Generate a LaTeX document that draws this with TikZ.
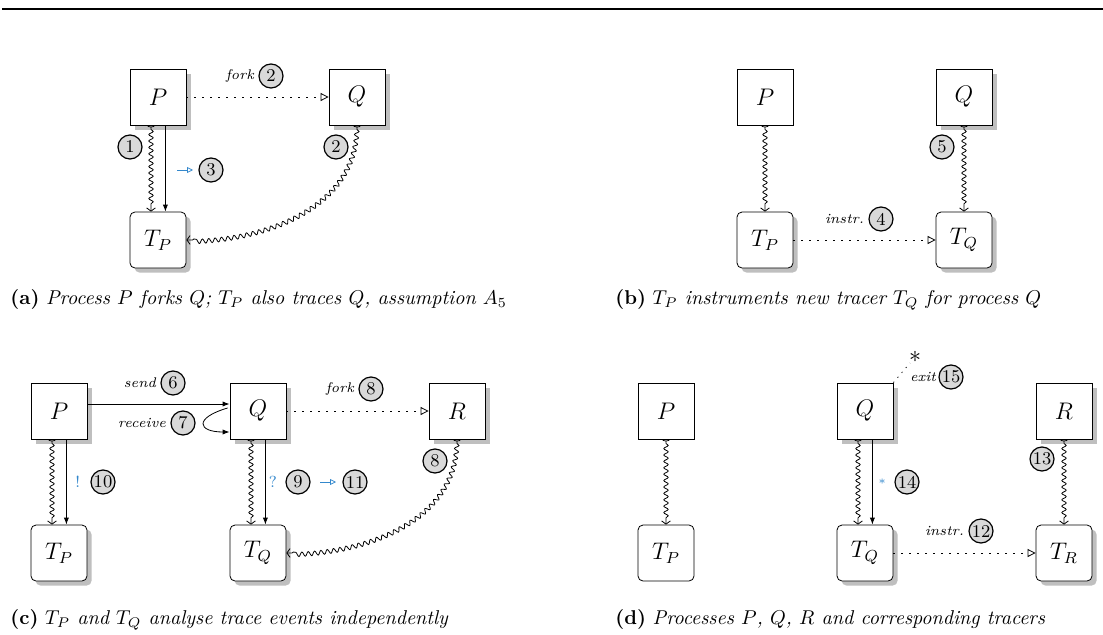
\documentclass[tikz,border=0pt]{standalone}
\usetikzlibrary{positioning,arrows.meta,decorations.pathmorphing,shadows}

\definecolor{evblue}{RGB}{52,136,204}

\tikzset{
	proc/.style={draw, fill=white, minimum size=28pt, inner sep=0pt, font=\large},
	tracer/.style={proc, rounded corners=2.5pt},
	live/.style={drop shadow={shadow xshift=2.3pt, shadow yshift=-2.3pt, fill=black!25, opacity=1}},
	evnum/.style={circle, draw, semithick, fill=black!15, font=\small, inner sep=0.3pt, minimum size=12pt},
	lbl/.style={font=\scriptsize\itshape, inner sep=0pt},
	evmark/.style={text=evblue, font=\footnotesize, inner sep=0pt},
	trace/.style={decorate, decoration={snake, amplitude=1.1pt, segment length=3.2pt, pre length=2pt, post length=2.5pt},
		arrows={Arc Barb[reversed,width=4pt,length=1pt]-Straight Barb[length=1.6pt,width=4.4pt]}},
	event/.style={arrows={-Latex[length=3.5pt,width=2.6pt]}},
	spawn/.style={dash pattern=on 0.6pt off 3.4pt, arrows={-Triangle[open,length=4pt,width=4pt]}},
	figcap/.style={anchor=base west, inner sep=0pt},
}

\begin{document}
\begin{tikzpicture}[x=0.5pt, y=0.5pt]
	\useasboundingbox (0,0) rectangle (1103,634);
	
	% rule on top
	\draw[line width=0.8pt] (2,625) -- (1103,625);
	
	% (a) fork
	\node[proc,live] (Pa) at (158,537) {$P$};
	\node[proc,live] (Qa) at (357,537) {$Q$};
	\node[tracer,live] (TPa) at (158,394) {$T_P$};
	
	\draw[spawn] (Pa) -- (Qa);
	\draw[trace] ([xshift=-3.5pt]Pa.south) -- ([xshift=-3.5pt]TPa.north);
	\draw[event] ([xshift=3.7pt]Pa.south) -- ([xshift=3.7pt]TPa.north);
	\draw[trace] (Qa.south) to[out=-90,in=0] (TPa.east);
	
	\node[evnum] (n2fa) at (271,558) {2};
	\node[lbl, left=2pt of n2fa] (forka) {fork};
	\node[evnum] (n1a) at (130,487) {1};
	\node[evnum] (n2a) at (336,487) {2};
	\node[evnum] (n3a) at (211,464) {3};
	\coordinate (ba1) at (177,464);
	\coordinate (ba2) at (193,464);
	\draw[evblue, arrows={-Triangle[open,length=3pt,width=3pt]}] (ba1) -- (ba2);
	
	\node[figcap] (capa) at (10,330) {\textbf{(a)} \textit{Process $P$ forks $Q$; $T_P$ also traces $Q$, assumption $A_5$}};
	
	% (b) new tracer
	\node[proc] (Pb) at (765,537) {$P$};
	\node[proc,live] (Qb) at (964,537) {$Q$};
	\node[tracer,live] (TPb) at (765,394) {$T_P$};
	\node[tracer,live] (TQb) at (964,394) {$T_Q$};
	
	\draw[trace] (Pb.south) -- (TPb.north);
	\draw[trace] (Qb.south) -- (TQb.north);
	\draw[spawn] (TPb) -- (TQb);
	
	\node[evnum] (n4b) at (881,415) {4};
	\node[lbl, left=2pt of n4b] (instrb) {instr.};
	\node[evnum] (n5b) at (942,487) {5};
	
	\node[figcap] (capb) at (615,330) {\textbf{(b)} \textit{$T_P$ instruments new tracer $T_Q$ for process $Q$}};
	
	% (c) send and receive
	\node[proc,live] (Pc) at (59,223) {$P$};
	\node[proc,live] (Qc) at (258,223) {$Q$};
	\node[proc,live] (Rc) at (457,223) {$R$};
	\node[tracer,live] (TPc) at (59,81) {$T_P$};
	\node[tracer,live] (TQc) at (258,81) {$T_Q$};
	
	\draw[event] ([yshift=3.5pt]Pc.east) -- ([yshift=3.5pt]Qc.west);
	\draw[event] ([xshift=-1pt,yshift=1.5pt]Qc.west) .. controls +(-17pt,-5pt) and +(-16pt,0pt) .. ([yshift=-10.5pt]Qc.west);
	\draw[spawn] (Qc) -- (Rc);
	\draw[trace] ([xshift=-3.5pt]Pc.south) -- ([xshift=-3.5pt]TPc.north);
	\draw[event] ([xshift=3.7pt]Pc.south) -- ([xshift=3.7pt]TPc.north);
	\draw[trace] ([xshift=-3.5pt]Qc.south) -- ([xshift=-3.5pt]TQc.north);
	\draw[event] ([xshift=3.7pt]Qc.south) -- ([xshift=3.7pt]TQc.north);
	\draw[trace] (Rc.south) to[out=-90,in=0] (TQc.east);
	
	\node[evnum] (n6c) at (173,251) {6};
	\node[lbl, left=2pt of n6c] (sendc) {send};
	\node[evnum] (n7c) at (183,211) {7};
	\node[lbl, left=2pt of n7c] (recvc) {receive};
	\node[evnum] (n8fc) at (371,245) {8};
	\node[lbl, left=2pt of n8fc] (forkc) {fork};
	\node[evnum] (n8c) at (435,173) {8};
	\node[evnum] (n10c) at (103,152) {10};
	\node[evmark, left=5pt of n10c] (bangc) {!};
	\node[evnum] (n9c) at (298,152) {9};
	\node[evmark, left=4pt of n9c] (askc) {?};
	\node[evnum] (n11c) at (355,152) {11};
	\coordinate (bc1) at (320,152);
	\coordinate (bc2) at (336,152);
	\draw[evblue, arrows={-Triangle[open,length=3pt,width=3pt]}] (bc1) -- (bc2);
	
	\node[figcap] (capc) at (10,10) {\textbf{(c)} \textit{$T_P$ and $T_Q$ analyse trace events independently}};
	
	% (d) exit
	\node[proc] (Pd) at (666,223) {$P$};
	\node[proc,live] (Qd) at (865,223) {$Q$};
	\node[proc,live] (Rd) at (1064,223) {$R$};
	\node[tracer] (TPd) at (666,81) {$T_P$};
	\node[tracer,live] (TQd) at (865,81) {$T_Q$};
	\node[tracer,live] (TRd) at (1064,81) {$T_R$};
	
	\draw[trace] (Pd.south) -- (TPd.north);
	\draw[trace] ([xshift=-3.5pt]Qd.south) -- ([xshift=-3.5pt]TQd.north);
	\draw[event] ([xshift=3.7pt]Qd.south) -- ([xshift=3.7pt]TQd.north);
	\draw[trace] (Rd.south) -- (TRd.north);
	\draw[spawn] (TQd) -- (TRd);
	
	\node[inner sep=0pt, font=\large] (endd) at (915,277) {$\ast$};
	\draw[dash pattern=on 0.6pt off 2.6pt] (Qd.north east) -- (endd);
	
	\node[evnum] (n15d) at (951,257) {15};
	\node[lbl, left=1pt of n15d] (exitd) {exit};
	\node[evnum] (n12d) at (981,103) {12};
	\node[lbl, left=2pt of n12d] (instrd) {instr.};
	\node[evnum] (n13d) at (1042,175) {13};
	\node[evnum] (n14d) at (907,152) {14};
	\node[evmark, left=4pt of n14d] (stard) {$\scriptstyle\ast$};
	
	\node[figcap] (capd) at (615,10) {\textbf{(d)} \textit{Processes $P$, $Q$, $R$ and corresponding tracers}};
\end{tikzpicture}
\end{document}
